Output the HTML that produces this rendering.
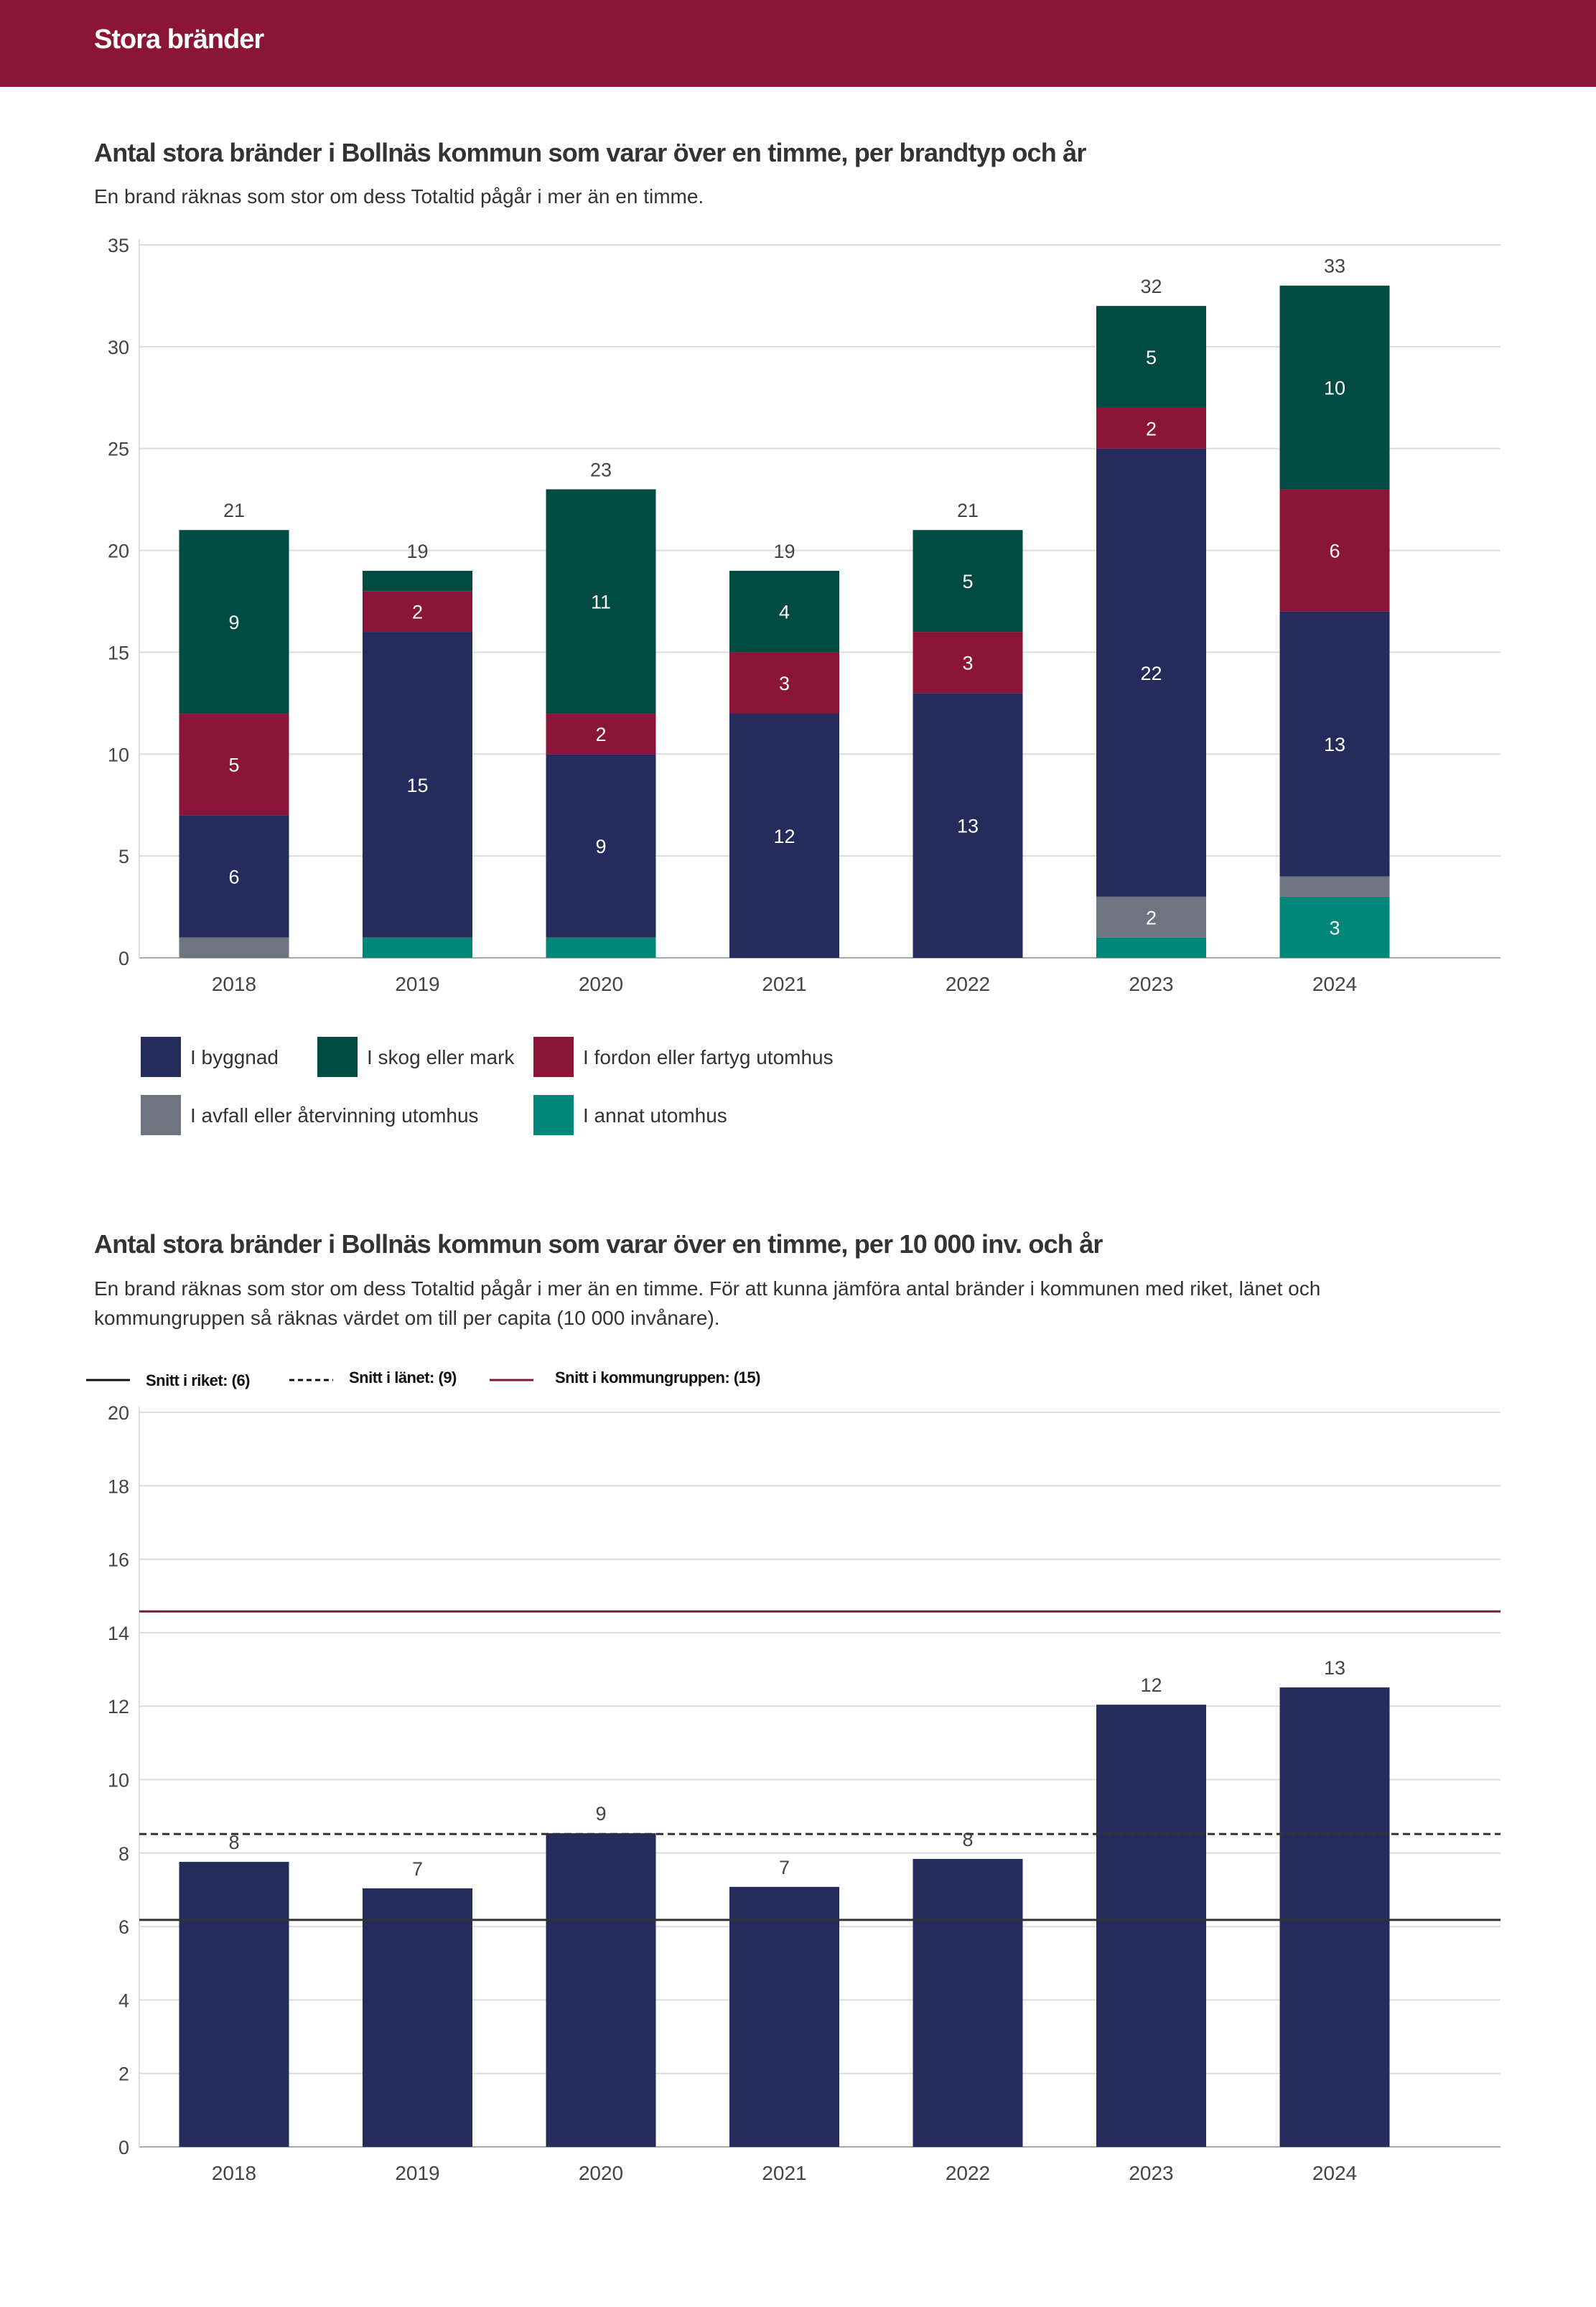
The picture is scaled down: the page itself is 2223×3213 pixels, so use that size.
<!DOCTYPE html>
<html><head><meta charset="utf-8"><style>
html,body{margin:0;padding:0;background:#fff;}
body{width:2223px;height:3213px;position:relative;overflow:hidden;font-family:"Liberation Sans","DejaVu Sans",sans-serif;color:#333;}
.hdr{position:absolute;left:0;top:0;width:2223px;height:121px;background:#8b1538;}
.hdr span{position:absolute;left:131px;top:34px;color:#fff;font-size:38px;font-weight:bold;letter-spacing:-1px;}
.t{position:absolute;left:131px;font-size:36px;font-weight:bold;color:#333;letter-spacing:-0.8px;white-space:nowrap;}
.s{position:absolute;left:131px;font-size:28px;color:#333;line-height:41px;}
svg{position:absolute;left:0;top:0;}
</style></head><body>
<div class="hdr"><span>Stora bränder</span></div>
<div class="t" style="top:192px">Antal stora bränder i Bollnäs kommun som varar över en timme, per brandtyp och år</div>
<div class="s" style="top:253px">En brand räknas som stor om dess Totaltid pågår i mer än en timme.</div>
<div class="t" style="top:1712px">Antal stora bränder i Bollnäs kommun som varar över en timme, per 10 000 inv. och år</div>
<div class="s" style="top:1774px;width:2000px">En brand räknas som stor om dess Totaltid pågår i mer än en timme. För att kunna jämföra antal bränder i kommunen med riket, länet och<br>kommungruppen så räknas värdet om till per capita (10 000 invånare).</div>
<svg id="c" width="2223" height="3213" xmlns="http://www.w3.org/2000/svg"></svg>
<script>
const years=['2018','2019','2020','2021','2022','2023','2024'];
const annat=[0,1,1,0,0,1,3];
const avfall=[1,0,0,0,0,2,1];
const byggnad=[6,15,9,12,13,22,13];
const fordon=[5,2,2,3,3,2,6];
const skog=[9,1,11,4,5,5,10];
const ticks1=[0,5,10,15,20,25,30,35];
const perCapita=[7.76,7.04,8.54,7.08,7.84,12.04,12.51];
const perCapitaLabels=['8','7','9','7','8','12','13'];
const ticks2=[0,2,4,6,8,10,12,14,16,18,20];
const rikeAvg=6.18, lanAvg=8.52, gruppAvg=14.58;

const NS='http://www.w3.org/2000/svg';
const svg=document.getElementById('c');
function el(tag,attrs,txt){const e=document.createElementNS(NS,tag);for(const k in attrs)e.setAttribute(k,attrs[k]);if(txt!==undefined)e.textContent=txt;svg.appendChild(e);return e;}
const L=194,R=2090,step=255.5,c0=326,bw=153;
const xc=i=>c0+i*step;
// chart 1
const y1=v=>1334-v*(993/35);
ticks1.forEach(t=>{
  const g=el('line',{x1:L,x2:R,y1:y1(t),y2:y1(t),stroke:t?'#dcdcdc':'#aaa','stroke-width':2});
  
  const tx=el('text',{x:180,y:y1(t)+10,'text-anchor':'end','font-size':27,fill:'#444'},String(t));
  
});
el('line',{x1:L,x2:L,y1:y1(35)-8,y2:y1(0),stroke:'#ddd','stroke-width':2});
const series=[['annat',annat,'#00877a'],['avfall',avfall,'#6e7480'],['byggnad',byggnad,'#252c5c'],['fordon',fordon,'#8b1538'],['skog',skog,'#024b42']];
years.forEach((yr,i)=>{
  let acc=0;
  series.forEach(([n,arr,col])=>{
    const v=arr[i];if(!v)return;
    const r=el('rect',{x:xc(i)-bw/2,y:y1(acc+v),width:bw,height:y1(acc)-y1(acc+v),fill:col});
    
    
    if(v>=2){const t=el('text',{x:xc(i),y:(y1(acc)+y1(acc+v))/2+10,'text-anchor':'middle','font-size':27,fill:'#fff'},String(v));
      }
    acc+=v;
  });
  const tl=el('text',{x:xc(i),y:y1(acc)-18,'text-anchor':'middle','font-size':27,fill:'#444'},String(acc));
  
  const xl=el('text',{x:xc(i),y:1380,'text-anchor':'middle','font-size':28,fill:'#444'},yr);
  
});
const leg=[[196,1444,'#252c5c','I byggnad'],[442,1444,'#024b42','I skog eller mark'],[743,1444,'#8b1538','I fordon eller fartyg utomhus'],[196,1525,'#6e7480','I avfall eller återvinning utomhus'],[743,1525,'#00877a','I annat utomhus']];
leg.forEach(([x,y,c,t])=>{
  const r=el('rect',{x:x,y:y,width:56,height:56,fill:c});
  
  const tx=el('text',{x:x+69,y:y+38,'font-size':28,fill:'#333'},t);
  
});
// chart 2
const y2=v=>2990-v*(1023/20);
ticks2.forEach(t=>{
  const g=el('line',{x1:L,x2:R,y1:y2(t),y2:y2(t),stroke:t?'#dcdcdc':'#aaa','stroke-width':2});
  
  const tx=el('text',{x:180,y:y2(t)+10,'text-anchor':'end','font-size':27,fill:'#444'},String(t));
  
});
el('line',{x1:L,x2:L,y1:y2(20)-8,y2:y2(0),stroke:'#ddd','stroke-width':2});
years.forEach((yr,i)=>{
  const r=el('rect',{x:xc(i)-bw/2,y:y2(perCapita[i]),width:bw,height:y2(0)-y2(perCapita[i]),fill:'#252c5c'});
  
  
  const t=el('text',{x:xc(i),y:y2(perCapita[i])-18,'text-anchor':'middle','font-size':27,fill:'#444'},perCapitaLabels[i]);
  
  const xl=el('text',{x:xc(i),y:3036,'text-anchor':'middle','font-size':28,fill:'#444'},yr);
  
});
const ref=[[gruppAvg,'#7a1a40',null,'kommungrupp-line'],[lanAvg,'#333','10,6','lan-line'],[rikeAvg,'#333',null,'riket-line']];
ref.forEach(([v,c,d,n])=>{
  const a={x1:L,x2:R,y1:y2(v),y2:y2(v),stroke:c,'stroke-width':3};if(d)a['stroke-dasharray']=d;
  const l=el('line',a);
});
const leg2=[[120,'#111',null,'Snitt i riket: (6)',203,1930],[403,'#111','7,5','Snitt i länet: (9)',486,1926],[682,'#7a1a40',null,'Snitt i kommungruppen: (15)',773,1926]];
leg2.forEach(([x,c,d,t,tx,ty])=>{
  const a={x1:x,x2:x+61,y1:1922,y2:1922,stroke:c,'stroke-width':3};if(d)a['stroke-dasharray']=d;
  const l=el('line',a);
  const e=el('text',{x:tx,y:ty,'font-size':22,'font-weight':'bold',fill:'#111','letter-spacing':'-0.5'},t);
  
});
</script>
</body></html>
